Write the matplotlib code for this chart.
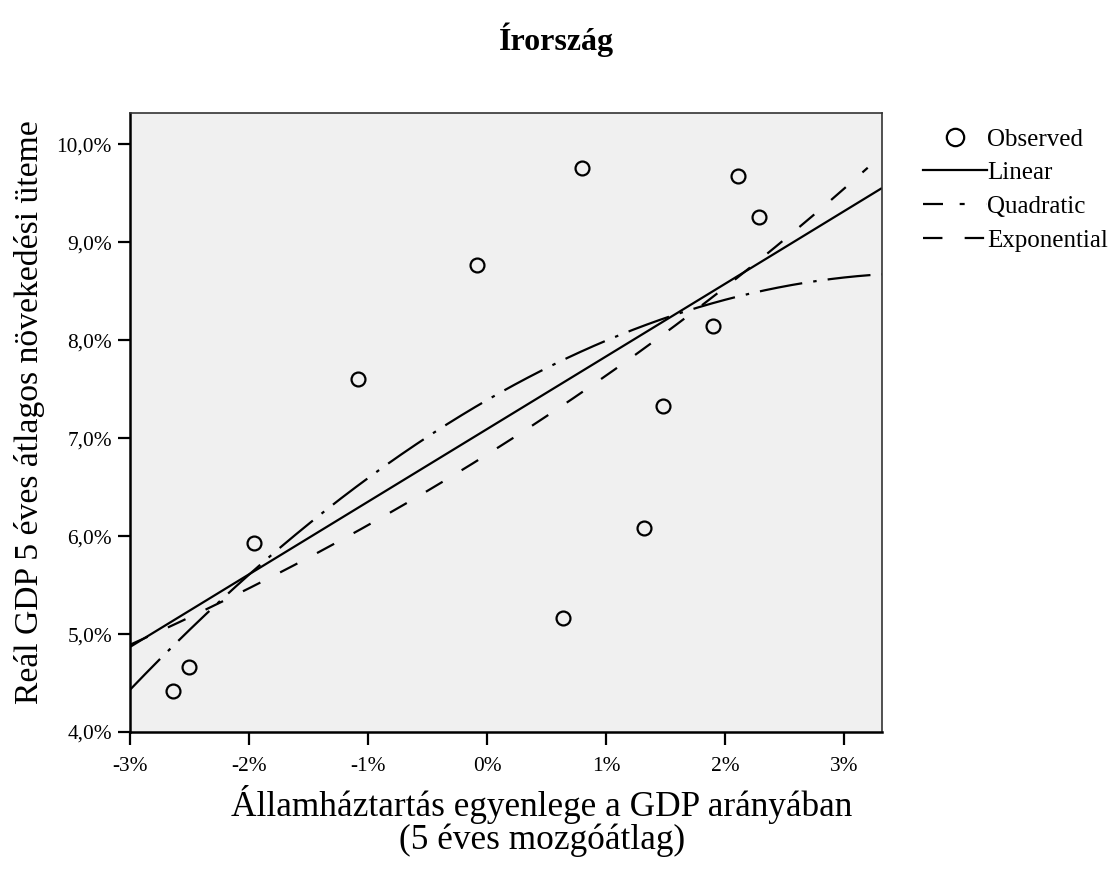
import numpy as np
import matplotlib
matplotlib.use("Agg")
import matplotlib.pyplot as plt
from matplotlib.lines import Line2D
from matplotlib.ticker import FuncFormatter

plt.rcParams["font.family"] = ["Liberation Serif", "DejaVu Serif"]
plt.rcParams["lines.scale_dashes"] = False

# Government balance (% of GDP, 5-year moving average) vs. real GDP growth (%)
balance = [-2.64, -2.50, -1.96, -1.08, -0.08, 0.64, 0.80, 1.32, 1.48, 1.90, 2.11, 2.29]
growth = [4.42, 4.66, 5.93, 7.60, 8.77, 5.16, 9.76, 6.08, 7.33, 8.15, 9.68, 9.26]

title = "Írország"
xlabel = "Államháztartás egyenlege a GDP arányában\n(5 éves mozgóátlag)"
ylabel = "Reál GDP 5 éves átlagos növekedési üteme"
legend_labels = ["Observed", "Linear", "Quadratic", "Exponential"]
x_ticks = [-3, -2, -1, 0, 1, 2, 3]
y_ticks = [4, 5, 6, 7, 8, 9, 10]

x = np.array(balance)
y = np.array(growth)

# Curve estimation: linear, quadratic and exponential fits
lin = np.polyfit(x, y, 1)
quad = np.polyfit(x, y, 2)
expc = np.polyfit(x, np.log(y), 1)

xmin, xmax = -3.0, 3.32
ymin, ymax = 4.0, 10.32
xs = np.linspace(xmin, xmax, 400)

W, H = 1112, 871
fig = plt.figure(figsize=(W / 100, H / 100), dpi=100)
ax = fig.add_axes([130 / W, 1 - 732 / H, (882 - 130) / W, (732 - 113) / H])
ax.set_facecolor("#f0f0f0")

lw = 1.6
dashdot = (0, (31, 8, 2.5, 8))
dashed = (0, (14, 16))

ax.plot(xs, np.polyval(lin, xs), color="black", lw=lw, solid_capstyle="butt")
ax.plot(xs, np.polyval(quad, xs), color="black", lw=lw, linestyle=dashdot)
xe = np.linspace(xmin, 3.2, 400)
ax.plot(xe, np.exp(np.polyval(expc, xe)), color="black", lw=lw, linestyle=dashed)
ax.plot(x, y, linestyle="none", marker="o", markersize=10, markerfacecolor="none",
        markeredgecolor="black", markeredgewidth=1.6)

ax.set_xlim(xmin, xmax)
ax.set_ylim(ymin, ymax)
ax.set_xticks(x_ticks)
ax.set_yticks(y_ticks)
ax.xaxis.set_major_formatter(FuncFormatter(lambda v, p: f"{v:.0f}%".replace("\u2212", "-")))
ax.yaxis.set_major_formatter(FuncFormatter(lambda v, p: f"{v:.1f}%".replace(".", ",")))
ax.tick_params(axis="both", direction="out", length=9, width=1.6, colors="black",
               labelsize=15.4)
ax.tick_params(axis="x", pad=9)
ax.tick_params(axis="y", pad=4)

for side in ["left", "bottom"]:
    ax.spines[side].set_linewidth(1.8)
for side in ["top", "right"]:
    ax.spines[side].set_linewidth(1.2)
    ax.spines[side].set_color("#333333")

fig.suptitle(title, x=0.5, y=1 - 40 / H, va="center", fontsize=23, fontweight="bold")
fig.text(542 / W, 1 - 821 / H, xlabel, ha="center", va="center", fontsize=25.4,
         linespacing=0.98)
fig.text(30 / W, 1 - 412 / H, ylabel, ha="center", va="center", rotation=90,
         fontsize=24.2)

handles = [
    Line2D([], [], linestyle="none", marker="o", markersize=12.5, markerfacecolor="none",
           markeredgecolor="black", markeredgewidth=1.6),
    Line2D([], [], color="black", lw=lw),
    Line2D([], [], color="black", lw=lw, linestyle=(0, (14.4, 12, 3.6, 16))),
    Line2D([], [], color="black", lw=lw, linestyle=dashed),
]
fig.legend(handles, legend_labels, loc="upper left",
           bbox_to_anchor=(923 / W, 1 - 128 / H), frameon=False, fontsize=18,
           handlelength=2.55, handletextpad=0.0, labelspacing=0.45,
           borderaxespad=0, borderpad=0)

fig.savefig("out.png", dpi=100)
